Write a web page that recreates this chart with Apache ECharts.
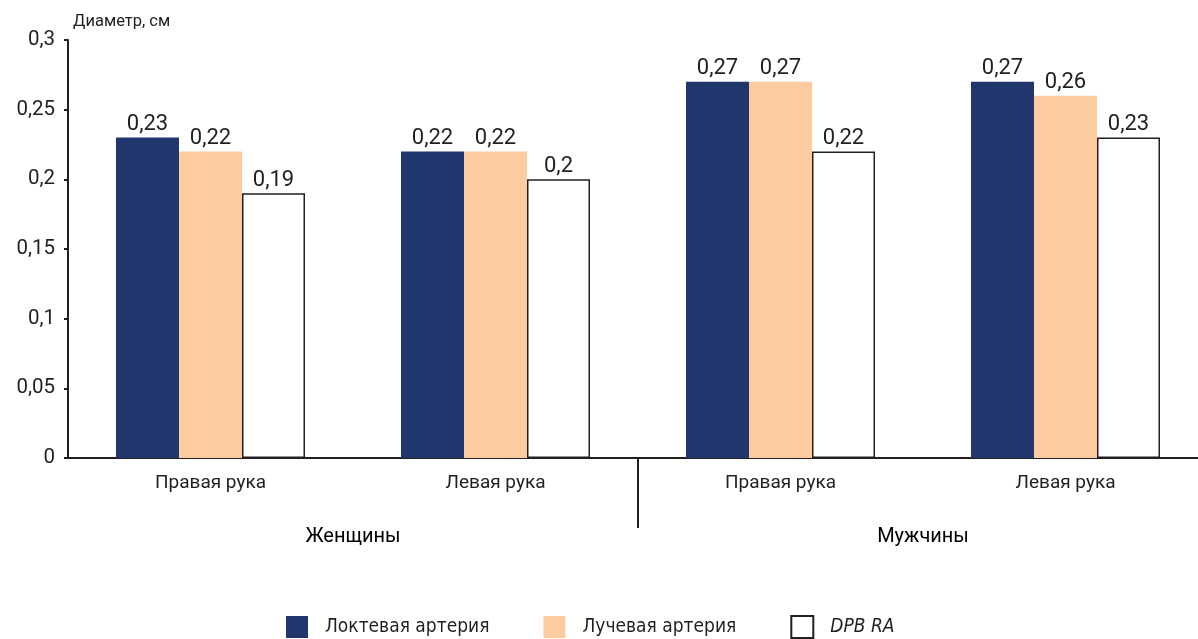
<!DOCTYPE html>
<html>
<head>
<meta charset="utf-8">
<script src="https://cdn.jsdelivr.net/npm/echarts@6/dist/echarts.min.js"></script>
<style>
html,body{margin:0;padding:0;background:#fff;}
#chart{width:1198px;height:639px;}
</style>
</head>
<body>
<div id="chart"></div>
<script>
// Arm side within each sex group
const categories = ['Правая рука', 'Левая рука', 'Правая рука', 'Левая рука'];
const groups = ['Женщины', 'Мужчины'];
const seriesNames = ['Локтевая артерия', 'Лучевая артерия', 'DPB RA'];
const ulnar = [0.23, 0.22, 0.27, 0.27];
const radial = [0.22, 0.22, 0.27, 0.26];
const dpbRa = [0.19, 0.20, 0.22, 0.23];
const yTicks = [0, 0.05, 0.1, 0.15, 0.2, 0.25, 0.3];

const FONT = 'Roboto, "Noto Sans", sans-serif';
const FONT_N = '"Liberation Sans Narrow", "DejaVu Sans Condensed", Roboto, sans-serif';
const TEXT = '#231f20';
const comma = v => String(v).replace('.', ',');

const chart = echarts.init(document.getElementById('chart'));

const labelOpt = {
  show: true, position: 'top', distance: 2,
  color: TEXT, fontFamily: FONT, fontSize: 22,
  formatter: p => comma(p.value)
};

chart.setOption({
  animation: false,
  textStyle: { fontFamily: FONT, color: TEXT },
  grid: { left: 68, top: 40, right: -10, height: 418, containLabel: false, outerBoundsMode: 'none' },
  legend: {
    bottom: -5, left: 281, itemWidth: 22, itemHeight: 22, itemGap: 54,
    icon: 'rect',
    textStyle: { fontFamily: FONT_N, fontSize: 19, color: TEXT, padding: [0, 0, 0, 12],
      rich: { it: { fontStyle: 'italic', fontFamily: FONT_N, fontSize: 19, color: TEXT } } },
    formatter: n => n === 'DPB RA' ? '{it|' + n + '}' : n,
    data: seriesNames
  },
  xAxis: [{
    type: 'category', data: categories,
    axisLine: { lineStyle: { color: TEXT, width: 2 } },
    axisTick: { show: false },
    axisLabel: { color: TEXT, fontFamily: FONT, fontSize: 19, margin: 16 }
  }, {
    type: 'category', data: groups, position: 'bottom',
    axisLine: { show: false }, axisTick: { show: false },
    axisLabel: { color: '#000', fontFamily: FONT, fontSize: 20, margin: 69 }
  }],
  yAxis: {
    type: 'value', min: 0, max: 0.3, interval: 0.05,
    name: 'Диаметр, см', nameLocation: 'end', nameGap: 10,
    nameTextStyle: { color: TEXT, fontFamily: FONT, fontSize: 16.5, align: 'left', padding: [0, 0, 0, 5] },
    splitLine: { show: false },
    axisLine: { show: true, lineStyle: { color: TEXT, width: 2 } },
    axisTick: { show: true, length: 4, lineStyle: { color: TEXT, width: 2 } },
    axisLabel: { color: TEXT, fontFamily: FONT, fontSize: 20.5, margin: 13,
      formatter: v => yTicks.indexOf(+v.toFixed(2)) >= 0 ? comma(+v.toFixed(2)) : '' }
  },
  series: [
    { name: seriesNames[0], type: 'bar', data: ulnar, barWidth: 63, barGap: '0%',
      itemStyle: { color: '#21366c' }, label: labelOpt },
    { name: seriesNames[1], type: 'bar', data: radial, barWidth: 63, barGap: '0%',
      itemStyle: { color: '#fccb9f' }, label: labelOpt },
    { name: seriesNames[2], type: 'bar', data: dpbRa, barWidth: 63, barGap: '0%',
      itemStyle: { color: '#ffffff', borderColor: TEXT, borderWidth: 1.5 }, label: labelOpt }
  ]
});

// Divider between the two sex groups, from the axis down past the arm labels
const x0 = chart.convertToPixel({ xAxisIndex: 0 }, 1);
const x1 = chart.convertToPixel({ xAxisIndex: 0 }, 2);
const y0 = chart.convertToPixel({ yAxisIndex: 0 }, 0);
const xm = Math.round((x0 + x1) / 2);
chart.setOption({
  graphic: [{
    type: 'line', shape: { x1: xm, y1: y0, x2: xm, y2: y0 + 70 },
    style: { stroke: TEXT, lineWidth: 2 }
  }]
});
</script>
</body>
</html>
